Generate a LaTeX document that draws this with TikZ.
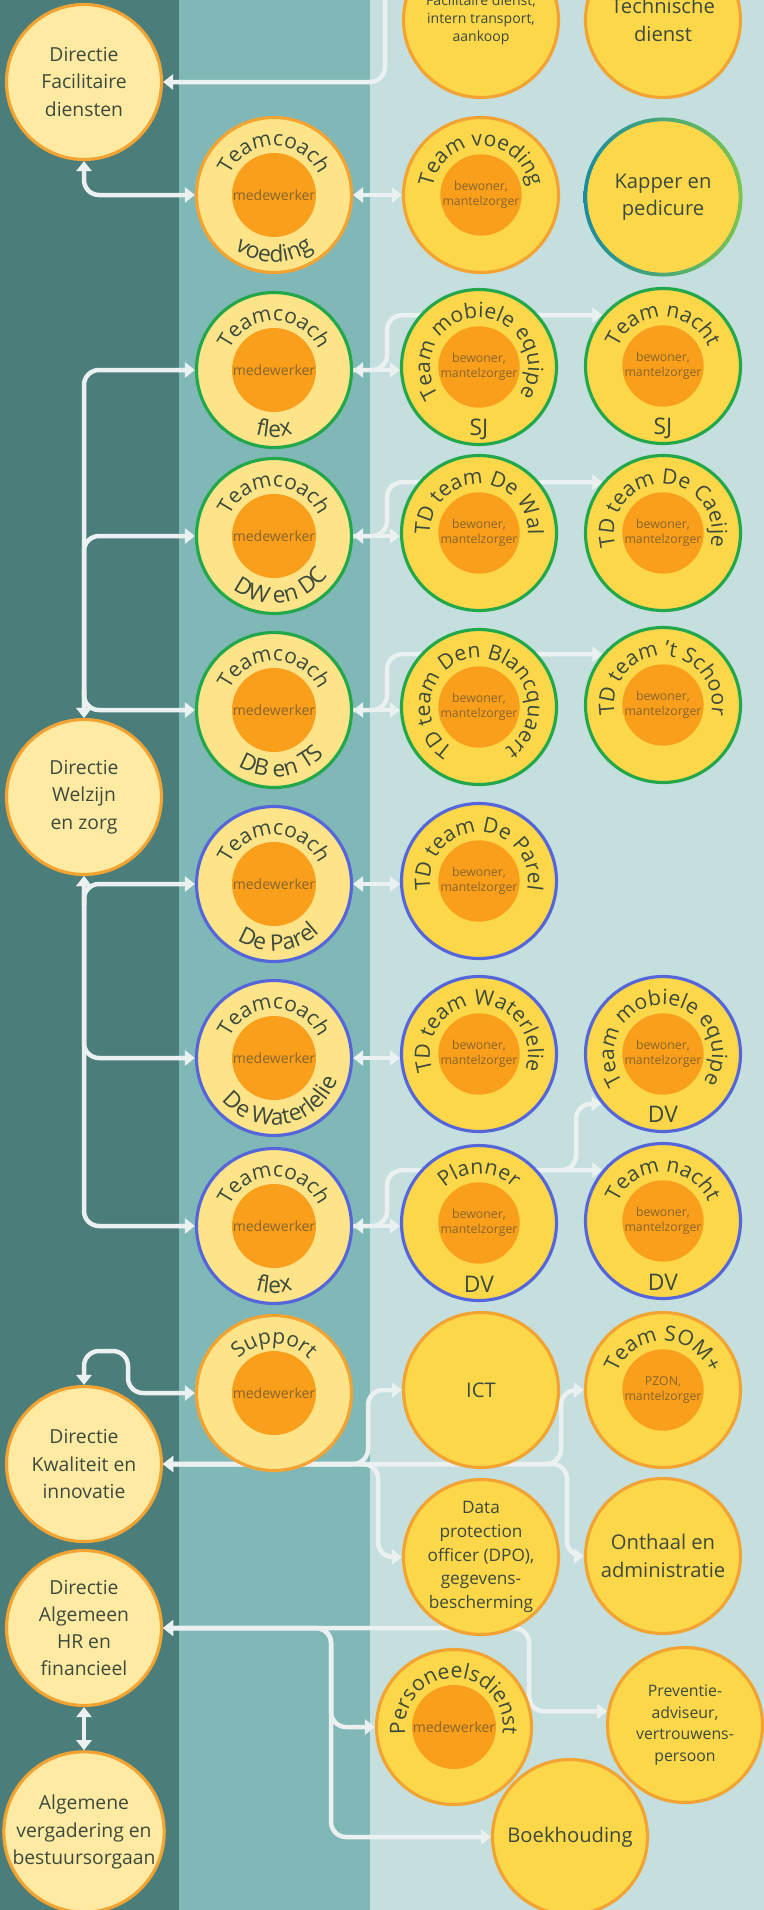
\documentclass[tikz,border=0pt]{standalone}
\usepackage{fontspec}
\setmainfont{Open Sans}
\usetikzlibrary{arrows.meta,decorations.text}

\pgfdeclarelayer{bg}
\pgfdeclarelayer{wires}
\pgfsetlayers{bg,wires,main}

% kleuren
\definecolor{coldark}{HTML}{4B7D7A}
\definecolor{colmid}{HTML}{80B8B8}
\definecolor{collight}{HTML}{C4DFDD}
\definecolor{lineclr}{HTML}{EBF0F0}
\definecolor{dirfill}{HTML}{FEEAA2}
\definecolor{coachfill}{HTML}{FDE489}
\definecolor{teamfill}{HTML}{FDD74A}
\definecolor{corefill}{HTML}{FA9F1C}
\definecolor{ringorange}{HTML}{F2A332}
\definecolor{ringgreen}{HTML}{22A84A}
\definecolor{ringblue}{HTML}{5566DA}
\definecolor{kapteal}{HTML}{1A8CA0}
\definecolor{kapgreen}{HTML}{7CC64A}
\definecolor{txt}{HTML}{3C4A3C}
\definecolor{coretxt}{HTML}{86652A}

% lettertypes
\newcommand{\fdir}{\fontsize{11}{15.5}\selectfont}
\newcommand{\flabel}{\fontsize{11.5}{15.5}\selectfont}
\newcommand{\fsmall}{\fontsize{8}{10.4}\selectfont}
\newcommand{\fdpo}{\fontsize{9.8}{13.5}\selectfont}
\newcommand{\fprev}{\fontsize{9}{12.3}\selectfont}
\newcommand{\fcore}{\fontsize{8}{9}\selectfont}
\newcommand{\fclient}{\fontsize{7}{8.5}\selectfont}
\newcommand{\farc}{\fontsize{12}{14}\selectfont}
\newcommand{\fbot}{\fontsize{13}{15}\selectfont}

% gebogen tekst boven en onder in een cirkel
\newcommand{\arctop}[3][90]{%
  \path[decorate,decoration={text along path,text align=center,text color=txt,
      text={|\farc|#3}}]
    ([shift={(#1+162:49)}]#2.center) arc[start angle=#1+162,end angle=#1-162,radius=49];}
\newcommand{\arcbot}[3][270]{%
  \path[decorate,decoration={text along path,text align=center,text color=txt,
      text={|\fbot|#3}}]
    ([shift={(#1-160:67)}]#2.center) arc[start angle=#1-160,end angle=#1+160,radius=67];}

\tikzset{
  dir/.style={circle,minimum size=3.1cm,inner sep=0pt,fill=dirfill,draw=ringorange,
    line width=1.8pt,text=txt,font=\fdir,align=center},
  coach/.style={circle,minimum size=3.1cm,inner sep=0pt,fill=coachfill,draw=#1,line width=1.8pt},
  coach/.default=ringorange,
  team/.style={circle,minimum size=3.1cm,inner sep=0pt,fill=teamfill,draw=#1,line width=1.8pt,
    text=txt,font=\flabel,align=center},
  team/.default=ringorange,
  core/.style={circle,minimum size=1.68cm,inner sep=0pt,fill=corefill,text=coretxt,
    font=\fcore,align=center},
  client/.style={core,minimum size=1.6cm,font=\fclient},
  lowlbl/.style={text=txt,font=\fbot,anchor=base,inner sep=0pt},
  conn/.style={draw=lineclr,line width=0.09cm,rounded corners=0.3cm}
}

\begin{document}
\begin{tikzpicture}[x=0.02cm,y=0.02cm,>={Triangle[length=0.2cm,width=0.3cm]}]
\useasboundingbox (0,0) rectangle (764,-1910);
\clip (0,0) rectangle (764,-1910);

% kolommen
\begin{pgfonlayer}{bg}
  \fill[coldark] (0,0) rectangle (179,-1910);
  \fill[colmid] (179,0) rectangle (370,-1910);
  \fill[collight] (370,0) rectangle (764,-1910);
\end{pgfonlayer}

% directies
\node[dir] (dirfac) at (84,-82) {Directie\\Facilitaire\\diensten};
\node[dir] (welz) at (84,-797) {Directie\\Welzijn\\en zorg};
\node[dir] (kwal) at (84,-1464) {Directie\\Kwaliteit en\\innovatie};
\node[dir] (hr) at (84,-1628) {Directie\\Algemeen\\HR en\\financieel};
\node[dir] (alg) at (84,-1832) {Algemene\\vergadering en\\bestuursorgaan};

% teamcoaches
\node[coach] (tcvoed) at (274,-195) {};
\node[coach=ringgreen] (tcflexsj) at (274,-370) {};
\node[coach=ringgreen] (tcdw) at (274,-536) {};
\node[coach=ringgreen] (tcdb) at (274,-710) {};
\node[coach=ringblue] (tcparel) at (274,-884) {};
\node[coach=ringblue] (tcwater) at (274,-1058) {};
\node[coach=ringblue] (tcflexdv) at (274,-1226) {};
\node[coach] (support) at (274,-1393) {};

% teams en diensten
\node[team,font=\fsmall] (facil) at (481,-20) {Facilitaire dienst,\\intern transport,\\aankoop};
\node[team] (tvoed) at (481,-195) {};
\node[team=ringgreen] (tmesj) at (479,-367) {};
\node[team=ringgreen] (tdwal) at (479,-533) {};
\node[team=ringgreen] (tdblanc) at (479,-707) {};
\node[team=ringblue] (tdparel) at (479,-881) {};
\node[team=ringblue] (tdwater) at (479,-1054) {};
\node[team=ringblue] (planner) at (479,-1223) {};
\node[team] (ict) at (481,-1390) {ICT};
\node[team,font=\fdpo] (dpo) at (481,-1557) {Data\\protection\\officer (DPO),\\gegevens-\\bescherming};
\node[team] (pers) at (454,-1727) {};
\node[team] (boek) at (570,-1837) {Boekhouding};

\node[team] (techn) at (663,-20) {Technische\\dienst};
\node[team=kapteal] (kapper) at (663,-197) {Kapper en\\pedicure};
\shade[left color=kapteal,right color=kapgreen,even odd rule]
  (kapper.center) circle[radius=79.5] circle[radius=76];
\node[team=ringgreen] (nachtsj) at (663,-366) {};
\node[team=ringgreen] (caeije) at (663,-533) {};
\node[team=ringgreen] (schoor) at (663,-705) {};
\node[team=ringblue] (tmedv) at (663,-1054) {};
\node[team=ringblue] (nachtdv) at (663,-1221) {};
\node[team] (som) at (663,-1390) {};
\node[team] (onthaal) at (663,-1556) {Onthaal en\\administratie};
\node[team,font=\fprev] (prev) at (685,-1725) {Preventie-\\adviseur,\\vertrouwens-\\persoon};

% binnencirkels
\foreach \n in {tcvoed,tcflexsj,tcdw,tcdb,tcparel,tcwater,tcflexdv,support,pers}
  \node[core] (\n-c) at (\n) {medewerker};
\foreach \n in {tvoed,tmesj,nachtsj,tdwal,caeije,tdblanc,schoor,tdparel,tdwater,tmedv,planner,nachtdv}
  \node[client] (\n-c) at (\n) {bewoner,\\mantelzorger};
\node[client] (som-c) at (som) {PZON,\\mantelzorger};

% gebogen titels
\foreach \n in {tcvoed,tcflexsj,tcdw,tcdb,tcparel,tcwater,tcflexdv}
  \arctop{\n}{Teamcoach};
\arctop{support}{Support}
\arctop{pers}{Personeelsdienst}
\arctop{tvoed}{Team voeding}
\arctop{tmesj}{Team mobiele equipe}
\arctop{nachtsj}{Team nacht}
\arctop{tdwal}{TD team De Wal}
\arctop{caeije}{TD team De Caeije}
\arctop{tdblanc}{TD team Den Blancquaert}
\arctop{schoor}{TD team 't Schoor}
\arctop{tdparel}{TD team De Parel}
\arctop{tdwater}{TD team Waterlelie}
\arctop{tmedv}{Team mobiele equipe}
\arctop{planner}{Planner}
\arctop{nachtdv}{Team nacht}
\arctop{som}{Team SOM+}

\arcbot{tcvoed}{voeding}
\arcbot{tcflexsj}{flex}
\arcbot[278]{tcdw}{DW en DC}
\arcbot[278]{tcdb}{DB en TS}
\arcbot[275]{tcparel}{De Parel}
\arcbot[280]{tcwater}{De Waterlelie}
\arcbot{tcflexdv}{flex}
\foreach \n/\t in {tmesj/SJ,nachtsj/SJ,tmedv/DV,planner/DV,nachtdv/DV}
  \node[lowlbl] (\n-l) at ([yshift=-1.38cm]\n.center) {\t};

% verbindingen
\coordinate (faciltop) at (385,10);
\coordinate (wzup) at (84,-690);
\coordinate (wzdown) at (84,-905);
\coordinate (kwloop) at (128,-1351);
\coordinate (dvsplit) at (nachtdv.140 -| planner.east);

\begin{pgfonlayer}{wires}
  \draw[conn,->] (faciltop) |- (dirfac.east);
  \draw[conn,<->] (dirfac.south) |- (tcvoed.west);
  \draw[conn,<->] (tcvoed.east) -- (tcvoed.east -| tvoed.west);

  % welzijn en zorg
  \draw[conn,<->] (welz.north) |- (tcflexsj.west);
  \draw[conn,<->] (welz.north) |- (tcdw.west);
  \draw[conn,->] (wzup) |- (tcdb.west);
  \draw[conn,<->] (welz.south) |- (tcwater.west);
  \draw[conn,<->] (welz.south) |- (tcflexdv.west);
  \draw[conn,->] (wzdown) |- (tcparel.west);

  \foreach \a/\b in {tcflexsj/tmesj,tcdw/tdwal,tcdb/tdblanc,tcparel/tdparel,tcwater/tdwater,tcflexdv/planner}
    \draw[conn,<->] (\a.east) -- (\a.east -| \b.west);
  \foreach \a/\b in {tcflexsj/nachtsj,tcdw/caeije,tcdb/schoor,tcflexdv/nachtdv}
    \draw[conn,->] (\a.east) -- ++(34,0) |- (\b.140);
  \draw[conn,->] (dvsplit) -- ++(18,0) |- (tmedv.219);

  % kwaliteit en innovatie
  \draw[conn,<->] (kwal.north) |- (kwloop) |- (support.west);
  \draw[conn,<->] (kwal.east) -- ++(205,0) |- (ict.west);
  \draw[conn,<->] (kwal.east) -- ++(215,0) |- (dpo.west);
  \draw[conn,<->] (kwal.east) -- ++(398,0) |- (som.west);
  \draw[conn,<->] (kwal.east) -- ++(404,0) |- (onthaal.west);

  % algemeen HR en financieel
  \draw[conn,<->] (hr.east) -- ++(366,0) |- (prev.170);
  \draw[conn,<->] (hr.east) -- ++(168,0) |- (pers.west);
  \draw[conn,<->] (hr.east) -- ++(168,0) |- (boek.west);
  \draw[conn,<->] (hr.south) -- (alg.north);
\end{pgfonlayer}
\end{tikzpicture}
\end{document}
